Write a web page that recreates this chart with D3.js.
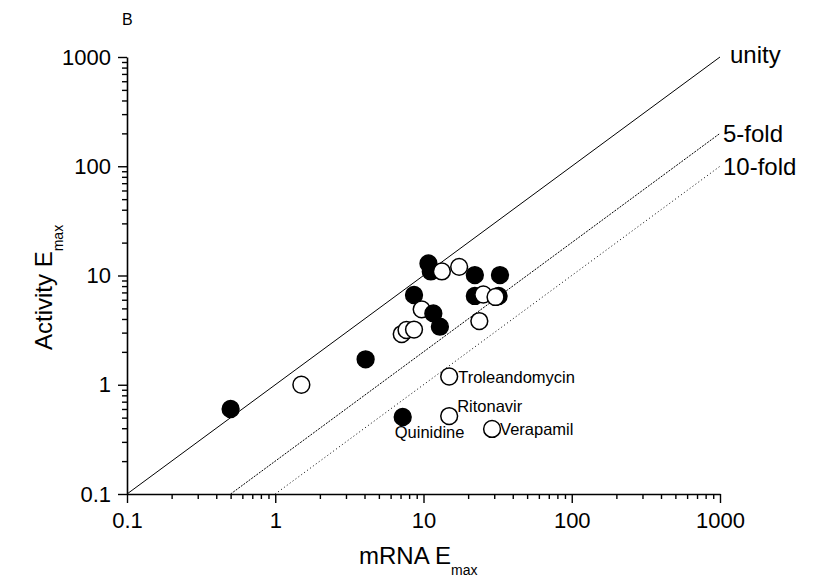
<!DOCTYPE html>
<html>
<head>
<meta charset="utf-8">
<script src="https://cdn.jsdelivr.net/npm/d3@7/dist/d3.min.js"></script>
<style>
  html, body { margin: 0; padding: 0; background: #fff; }
  svg { display: block; font-family: "Liberation Sans", Arial, sans-serif; }
</style>
</head>
<body>
<svg id="chart" width="823" height="585"></svg>
<script>
// ---- data ----
const majorTicks = [0.1, 1, 10, 100, 1000];
const tickLabels = ["0.1", "1", "10", "100", "1000"];
// points in draw order: mRNA Emax, activity Emax, filled (1) / open (0)
const mrnaEmax     = [0.5, 1.5, 4.07, 7.24, 10.8, 11.2, 13.3, 17.4, 22.2, 32.8, 22.2, 25.3, 32.1, 30.6, 8.63, 9.72, 11.65, 12.9, 23.8, 7.13, 7.68, 8.63, 14.9, 14.9, 29.0];
const activityEmax = [0.6, 1.0, 1.71, 0.507, 12.9, 10.9, 10.9, 12.0, 10.1, 10.1, 6.5, 6.7, 6.49, 6.36, 6.63, 4.9, 4.5, 3.4, 3.83, 2.91, 3.17, 3.2, 1.19, 0.517, 0.394];
const filled       = [1, 0, 1, 1, 1, 1, 0, 0, 1, 1, 1, 0, 1, 0, 1, 0, 1, 1, 0, 0, 0, 0, 0, 0, 0];
// labelled compounds: index into the point arrays
const drugNames = ["Troleandomycin", "Ritonavir", "Quinidine", "Verapamil"];
const drugIndex = [22, 23, 3, 24];
// reference lines: activity = mRNA / fold
const refFolds  = [1, 5, 10];
const refLabels = ["unity", "5-fold", "10-fold"];

// ---- layout ----
const svg = d3.select("#chart");
const x = d3.scaleLog().domain([0.1, 1000]).range([127, 720]);
const y = d3.scaleLog().domain([0.1, 1000]).range([494, 57]);

const minorTicks = [];
[0.1, 1, 10, 100].forEach(d => { for (let k = 2; k <= 9; k++) minorTicks.push(d * k); });

// reference lines
const refDash = [null, "2,1.2", "1,2.6"];
const refLabelPos = [{dx: 10, dy: 6}, {dx: 3, dy: 9}, {dx: 3, dy: 9}];
refFolds.forEach((f, i) => {
  const x0 = 0.1 * f, x1 = 1000;
  svg.append("line")
    .attr("x1", x(x0)).attr("y1", y(x0 / f))
    .attr("x2", x(x1)).attr("y2", y(x1 / f))
    .attr("stroke", "#000").attr("stroke-width", 1)
    .attr("stroke-dasharray", refDash[i]);
  svg.append("text")
    .attr("x", x(x1) + refLabelPos[i].dx)
    .attr("y", y(x1 / f) + refLabelPos[i].dy)
    .attr("font-size", 24)
    .text(refLabels[i]);
});

// axes
const fmt = d => tickLabels[majorTicks.indexOf(d)];
const gx = svg.append("g").attr("transform", `translate(0,${y(0.1)})`);
gx.call(d3.axisBottom(x).tickValues(majorTicks).tickFormat(fmt).tickSize(9).tickSizeOuter(0).tickPadding(8));
const gxm = svg.append("g").attr("transform", `translate(0,${y(0.1)})`);
gxm.call(d3.axisBottom(x).tickValues(minorTicks).tickFormat("").tickSize(5).tickSizeOuter(0));
gxm.select(".domain").remove();

const gy = svg.append("g").attr("transform", `translate(${x(0.1)},0)`);
gy.call(d3.axisLeft(y).tickValues(majorTicks).tickFormat(fmt).tickSize(9).tickSizeOuter(0).tickPadding(7));
const gym = svg.append("g").attr("transform", `translate(${x(0.1)},0)`);
gym.call(d3.axisLeft(y).tickValues(minorTicks).tickFormat("").tickSize(5).tickSizeOuter(0));
gym.select(".domain").remove();

svg.selectAll(".domain").attr("stroke-width", 1.6).attr("stroke", "#000");
svg.selectAll(".tick line").attr("stroke-width", 1.4).attr("stroke", "#000");
svg.selectAll(".tick text")
  .attr("font-size", 22)
  .attr("font-family", "Liberation Sans, Arial, sans-serif")
  .attr("fill", "#000");
gx.selectAll(".tick text").attr("dy", "0.78em");

// points
const pts = mrnaEmax.map((m, i) => ({m, a: activityEmax[i], f: filled[i]}));
svg.append("g").selectAll("circle").data(pts).join("circle")
  .attr("cx", d => x(d.m)).attr("cy", d => y(d.a)).attr("r", 8.4)
  .attr("fill", d => d.f ? "#000" : "#fff")
  .attr("stroke", "#000").attr("stroke-width", 1.5);

// drug labels
const drugOffset = [{dx: 9, dy: 7}, {dx: 8, dy: -4}, {dx: -8, dy: 21}, {dx: 8, dy: 6}];
drugNames.forEach((name, i) => {
  const p = pts[drugIndex[i]];
  svg.append("text")
    .attr("x", x(p.m) + drugOffset[i].dx)
    .attr("y", y(p.a) + drugOffset[i].dy)
    .attr("font-size", 16.5)
    .text(name);
});

// axis titles
const xt = svg.append("text").attr("x", 359).attr("y", 564).attr("font-size", 24);
xt.append("tspan").text("mRNA E");
xt.append("tspan").attr("font-size", 14).attr("dy", 11).text("max");

const yt = svg.append("text")
  .attr("transform", "translate(52,350) rotate(-90)")
  .attr("font-size", 24);
yt.append("tspan").text("Activity E");
yt.append("tspan").attr("font-size", 14).attr("dy", 11).text("max");

// panel letter
svg.append("text").attr("x", 122).attr("y", 25).attr("font-size", 16).text("B");
</script>
</body>
</html>
